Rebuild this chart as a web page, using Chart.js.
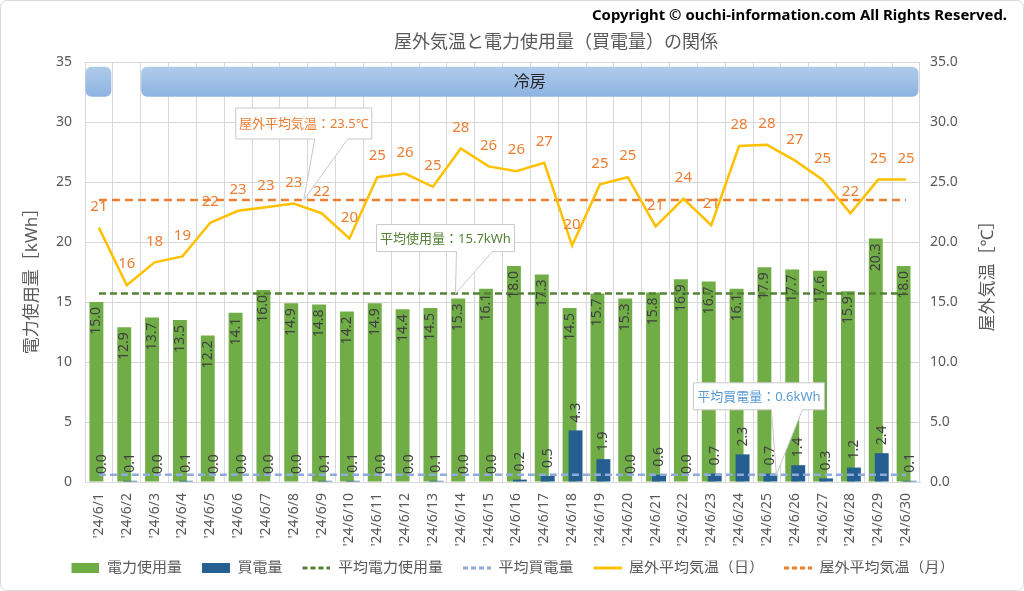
<!DOCTYPE html>
<html lang="ja">
<head>
<meta charset="utf-8">
<title>屋外気温と電力使用量（買電量）の関係</title>
<script src="https://cdn.jsdelivr.net/npm/chart.js@4.4.1/dist/chart.umd.min.js"></script>
<style>
  html, body { margin: 0; padding: 0; background: #fff; }
  #wrap { position: relative; width: 1024px; height: 591px; }
</style>
</head>
<body>
<div id="wrap"><canvas id="chart"></canvas></div>
<script>
const FONT = '"Noto Sans", "Noto Sans CJK JP", sans-serif';

// data
const days = [
  "'24/6/1", "'24/6/2", "'24/6/3", "'24/6/4", "'24/6/5", "'24/6/6", "'24/6/7", "'24/6/8", "'24/6/9", "'24/6/10",
  "'24/6/11", "'24/6/12", "'24/6/13", "'24/6/14", "'24/6/15", "'24/6/16", "'24/6/17", "'24/6/18", "'24/6/19", "'24/6/20",
  "'24/6/21", "'24/6/22", "'24/6/23", "'24/6/24", "'24/6/25", "'24/6/26", "'24/6/27", "'24/6/28", "'24/6/29", "'24/6/30"
];
const usage = [15.0, 12.9, 13.7, 13.5, 12.2, 14.1, 16.0, 14.9, 14.8, 14.2,
               14.9, 14.4, 14.5, 15.3, 16.1, 18.0, 17.3, 14.5, 15.7, 15.3,
               15.8, 16.9, 16.7, 16.1, 17.9, 17.7, 17.6, 15.9, 20.3, 18.0];
const purchased = [0.0, 0.1, 0.0, 0.1, 0.0, 0.0, 0.0, 0.0, 0.1, 0.1,
                   0.0, 0.0, 0.1, 0.0, 0.0, 0.2, 0.5, 4.3, 1.9, 0.0,
                   0.6, 0.0, 0.7, 2.3, 0.7, 1.4, 0.3, 1.2, 2.4, 0.1];
const tempDaily = [21.2, 16.4, 18.3, 18.8, 21.6, 22.6, 22.9, 23.2, 22.4, 20.3,
                   25.4, 25.7, 24.6, 27.8, 26.3, 25.9, 26.6, 19.7, 24.8, 25.4,
                   21.3, 23.6, 21.4, 28.0, 28.1, 26.8, 25.2, 22.4, 25.2, 25.2];
const avgUsage = 15.7;
const avgPurchased = 0.6;
const avgTempMonth = 23.5;
// air-conditioner mode per day ('' = off)
const hvacMode = ['冷房', '', '冷房', '冷房', '冷房', '冷房', '冷房', '冷房', '冷房', '冷房',
                  '冷房', '冷房', '冷房', '冷房', '冷房', '冷房', '冷房', '冷房', '冷房', '冷房',
                  '冷房', '冷房', '冷房', '冷房', '冷房', '冷房', '冷房', '冷房', '冷房', '冷房'];
const kwhTicks = [0, 5, 10, 15, 20, 25, 30, 35];
const tempTicks = [0, 5, 10, 15, 20, 25, 30, 35];

const GREEN = '#70AD47';
const BLUE = '#255E91';
const GREEN_DARK = '#548235';
const LIGHT_BLUE = '#8FAADC';
const YELLOW = '#FFC000';
const ORANGE = '#ED7D31';
const GRID = '#D9D9D9';
const TEXT = '#595959';

// fractional category position -> pixel
const catPx = (scale, v) => {
  const a = scale.getPixelForValue(0), b = scale.getPixelForValue(1);
  return a + (b - a) * v;
};

// legend markers: 20px empty on the left acts as the gap between items
const ICON_GAP = 20;
const legendIcon = (draw) => {
  const c = document.createElement('canvas');
  c.width = 28 + ICON_GAP; c.height = 14;
  const g = c.getContext('2d');
  g.translate(ICON_GAP, 0);
  draw(g);
  return c;
};
const boxIcon = color => legendIcon(g => { g.fillStyle = color; g.fillRect(0, 2, 28, 10); });
const lineIcon = (color, dash) => legendIcon(g => {
  g.strokeStyle = color; g.lineWidth = 3; g.setLineDash(dash);
  g.beginPath(); g.moveTo(0, 7); g.lineTo(28, 7); g.stroke();
});

// overlap the two bar series like Excel does
const barShift = {
  id: 'barShift',
  afterDatasetsUpdate(chart) {
    const x = chart.scales.x;
    const step = x.getPixelForValue(1) - x.getPixelForValue(0);
    chart.data.datasets.forEach((ds, i) => {
      if (!ds.shift) return;
      chart.getDatasetMeta(i).data.forEach(el => { el.x += ds.shift * step; });
    });
  }
};

// 冷房 band at the top of the plot
const hvacBand = {
  id: 'hvacBand',
  beforeDatasetsDraw(chart) {
    const {ctx, scales: {x, y}} = chart;
    const top = y.getPixelForValue(34.6), bottom = y.getPixelForValue(32.1);
    let i = 0;
    while (i < hvacMode.length) {
      if (!hvacMode[i]) { i++; continue; }
      let j = i;
      while (j + 1 < hvacMode.length && hvacMode[j + 1] === hvacMode[i]) j++;
      const left = catPx(x, i - 0.5) + 0.5, right = catPx(x, j + 0.5) - 1.5;
      const grad = ctx.createLinearGradient(0, top, 0, bottom);
      grad.addColorStop(0, '#B0CBEA');
      grad.addColorStop(1, '#8DB3E2');
      ctx.save();
      ctx.fillStyle = grad;
      ctx.beginPath();
      ctx.roundRect(left, top, right - left, bottom - top, 6);
      ctx.fill();
      if (j - i >= 3) {
        ctx.fillStyle = '#262626';
        ctx.font = '16px ' + FONT;
        ctx.textAlign = 'center';
        ctx.textBaseline = 'middle';
        ctx.fillText(hvacMode[i], (left + right) / 2, (top + bottom) / 2 + 1);
      }
      ctx.restore();
      i = j + 1;
    }
  }
};

// data labels
const valueLabels = {
  id: 'valueLabels',
  afterDatasetsDraw(chart) {
    const ctx = chart.ctx;
    chart.data.datasets.forEach((ds, i) => {
      if (!ds.labelMode) return;
      const meta = chart.getDatasetMeta(i);
      meta.data.forEach((el, j) => {
        const v = ds.data[j];
        ctx.save();
        if (ds.labelMode === 'point') {
          ctx.font = '15px ' + FONT;
          ctx.fillStyle = ORANGE;
          ctx.textAlign = 'center';
          ctx.textBaseline = 'middle';
          ctx.fillText(Math.round(v).toString(), el.x, el.y - 21);
        } else {
          ctx.font = '14px ' + FONT;
          ctx.fillStyle = '#404040';
          ctx.textBaseline = 'middle';
          if (ds.labelMode === 'inside') {
            ctx.translate(el.x, el.y + 5);
            ctx.rotate(-Math.PI / 2);
            ctx.textAlign = 'right';
          } else {
            ctx.translate(el.x, el.y - 8);
            ctx.rotate(-Math.PI / 2);
            ctx.textAlign = 'left';
          }
          ctx.fillText(v.toFixed(1), 0, 0);
        }
        ctx.restore();
      });
    });
  }
};

// callouts for the average lines
const callouts = [
  {text: '屋外平均気温：' + avgTempMonth.toFixed(1) + '℃', color: ORANGE, at: 7.36, value: avgTempMonth, axis: 'y2',
   box: [-68, -92, 136, 31], base: [11, 44]},
  {text: '平均使用量：' + avgUsage.toFixed(1) + 'kWh', color: GREEN_DARK, at: 12.81, value: avgUsage, axis: 'y',
   box: [-79, -69, 138, 27], base: [1, 37]},
  {text: '平均買電量：' + avgPurchased.toFixed(1) + 'kWh', color: '#5B9BD5', at: 24.34, value: avgPurchased, axis: 'y',
   box: [-83, -92, 131, 27], base: [-5, 26]}
];
const calloutPlugin = {
  id: 'calloutPlugin',
  afterDatasetsDraw(chart) {
    const ctx = chart.ctx;
    callouts.forEach(c => {
      const tx = catPx(chart.scales.x, c.at);
      const ty = chart.scales[c.axis].getPixelForValue(c.value);
      const l = tx + c.box[0], t = ty + c.box[1], w = c.box[2], h = c.box[3];
      const b = t + h;
      ctx.save();
      ctx.beginPath();
      ctx.moveTo(l, t);
      ctx.lineTo(l + w, t);
      ctx.lineTo(l + w, b);
      ctx.lineTo(tx + c.base[1], b);
      ctx.lineTo(tx, ty);
      ctx.lineTo(tx + c.base[0], b);
      ctx.lineTo(l, b);
      ctx.closePath();
      ctx.fillStyle = '#FFFFFF';
      ctx.fill();
      ctx.strokeStyle = '#C8C8C8';
      ctx.lineWidth = 1;
      ctx.stroke();
      ctx.fillStyle = c.color;
      ctx.font = '13px ' + FONT;
      ctx.textAlign = 'center';
      ctx.textBaseline = 'middle';
      ctx.fillText(c.text, l + w / 2, t + h / 2 + 1);
      ctx.restore();
    });
  }
};

// titles, axis titles, frame
const decorations = {
  id: 'decorations',
  afterDraw(chart) {
    const ctx = chart.ctx;
    ctx.save();
    ctx.fillStyle = '#000000';
    ctx.font = 'bold 14px ' + FONT;
    ctx.textBaseline = 'middle';
    const cr = 'Copyright © ouchi-information.com All Rights Reserved.';
    const cw = ctx.measureText(cr).width;
    ctx.translate(1007 - 415, 16);
    ctx.scale(415 / cw, 1);
    ctx.textAlign = 'left';
    ctx.fillText(cr, 0, 0);
    ctx.restore();

    ctx.save();
    ctx.fillStyle = TEXT;
    ctx.font = '18px ' + FONT;
    ctx.textAlign = 'center';
    ctx.textBaseline = 'middle';
    ctx.fillText('屋外気温と電力使用量（買電量）の関係', 556, 43);

    ctx.font = '17px ' + FONT;
    ctx.save();
    ctx.translate(32, 277);
    ctx.rotate(-Math.PI / 2);
    ctx.fillText('電力使用量［kWh］', 0, 0);
    ctx.restore();
    ctx.save();
    ctx.translate(988, 272);
    ctx.rotate(-Math.PI / 2);
    ctx.fillText('屋外気温［℃］', 0, 0);
    ctx.restore();

    ctx.strokeStyle = GRID;
    ctx.lineWidth = 1;
    ctx.beginPath();
    ctx.roundRect(0.5, 0.5, chart.width - 1, chart.height - 1, 6);
    ctx.stroke();
    ctx.restore();
  }
};

const legendItems = [
  {text: '電力使用量', icon: boxIcon(GREEN)},
  {text: '買電量', icon: boxIcon(BLUE)},
  {text: '平均電力使用量', icon: lineIcon(GREEN_DARK, [5, 3])},
  {text: '平均買電量', icon: lineIcon(LIGHT_BLUE, [5, 3])},
  {text: '屋外平均気温（日）', icon: lineIcon(YELLOW, [])},
  {text: '屋外平均気温（月）', icon: lineIcon(ORANGE, [5, 3])}
];

Chart.defaults.font.family = FONT;

new Chart(document.getElementById('chart'), {
  type: 'bar',
  data: {
    labels: days,
    datasets: [
      {type: 'line', label: '屋外平均気温（日）', data: tempDaily, yAxisID: 'y2', borderColor: YELLOW,
       borderWidth: 2.5, pointRadius: 0, tension: 0, order: 0, labelMode: 'point'},
      {type: 'line', label: '屋外平均気温（月）', data: days.map(() => avgTempMonth), yAxisID: 'y2',
       borderColor: ORANGE, borderWidth: 2.5, borderDash: [8, 5], pointRadius: 0, order: 1},
      {type: 'line', label: '平均電力使用量', data: days.map(() => avgUsage), yAxisID: 'y',
       borderColor: GREEN_DARK, borderWidth: 2.5, borderDash: [7, 4], pointRadius: 0, order: 2},
      {type: 'line', label: '平均買電量', data: days.map(() => avgPurchased), yAxisID: 'y',
       borderColor: LIGHT_BLUE, borderWidth: 2.5, borderDash: [7, 4], pointRadius: 0, order: 3},
      {label: '買電量', data: purchased, yAxisID: 'y', backgroundColor: BLUE, grouped: false,
       categoryPercentage: 1, barPercentage: 0.5, shift: 0.125, order: 4, labelMode: 'above'},
      {label: '電力使用量', data: usage, yAxisID: 'y', backgroundColor: GREEN, grouped: false,
       categoryPercentage: 1, barPercentage: 0.5, shift: -0.09, order: 5, labelMode: 'inside'}
    ]
  },
  options: {
    responsive: true,
    maintainAspectRatio: false,
    animation: false,
    layout: {padding: {top: 62, bottom: 5.5, left: 0, right: 18}},
    plugins: {
      tooltip: {enabled: false},
      title: {display: false},
      legend: {
        position: 'bottom',
        labels: {
          usePointStyle: true,
          pointStyleWidth: 28 + ICON_GAP,
          padding: 0,
          color: TEXT,
          font: {size: 15},
          generateLabels: () => legendItems.map((it, i) => ({
            text: it.text, pointStyle: it.icon, fontColor: TEXT, hidden: false, datasetIndex: i, lineWidth: 0
          }))
        }
      }
    },
    scales: {
      x: {
        offset: true,
        grid: {offset: true, color: GRID, drawTicks: false},
        border: {color: GRID},
        ticks: {color: TEXT, font: {size: 14}, minRotation: 90, maxRotation: 90, autoSkip: false, padding: 11},
        afterFit: s => { s.height = 591 - 5.5 - s.chart.legend.height - 482; }
      },
      y: {
        position: 'left',
        min: 0, max: 35,
        grid: {color: GRID, drawTicks: false},
        border: {color: GRID},
        ticks: {color: TEXT, font: {size: 14}, padding: 13},
        afterBuildTicks: s => { s.ticks = kwhTicks.map(v => ({value: v})); },
        afterFit: s => { s.width = 85; }
      },
      y2: {
        position: 'right',
        min: 0, max: 35,
        grid: {display: false, drawTicks: false},
        border: {display: false},
        ticks: {color: TEXT, font: {size: 14}, padding: 10, callback: v => Number(v).toFixed(1)},
        afterBuildTicks: s => { s.ticks = tempTicks.map(v => ({value: v})); },
        afterFit: s => { s.width = 86; }
      }
    }
  },
  plugins: [barShift, hvacBand, valueLabels, calloutPlugin, decorations]
});
</script>
</body>
</html>
